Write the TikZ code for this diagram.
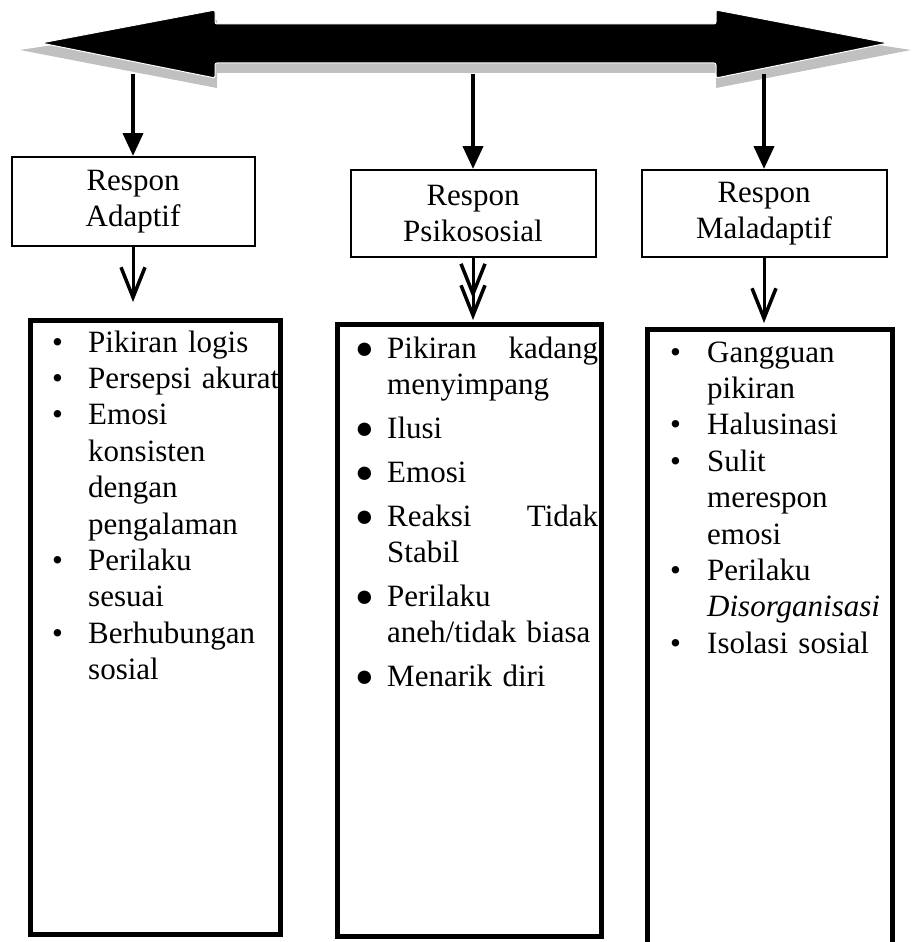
\documentclass[tikz,border=0pt]{standalone}
\usepackage{fontspec}
\setmainfont{Liberation Serif}
\usetikzlibrary{arrows.meta,positioning}
\definecolor{shadowgray}{RGB}{192,192,192}
\newcommand{\bul}[1][36pt]{\makebox[#1][l]{•}}
\newcommand{\bigbul}{\makebox[32pt][l]{●}}
\newcommand{\ind}[1][36pt]{\hspace*{#1}}

\begin{document}
\begin{tikzpicture}[x=1pt,y=-1pt,font=\fontsize{31}{36.4}\selectfont,
                    head node/.style={draw,line width=2pt,align=center,inner sep=0pt},
                    list box/.style={draw,line width=5pt,inner sep=0pt},
                    list text/.style={anchor=base west,align=left,inner sep=0pt,text width=250pt},
                    down arrow/.style={line width=4pt,-{Triangle[length=23pt,width=20pt]}},
                    open arrow/.style={line width=3pt,-{Straight Barb[length=30pt,width=24pt,line width=3.5pt]}}]

  \useasboundingbox (0,0) rectangle (913,942);

  % big double arrow with its shadow
  \fill[shadowgray] (20,50) -- (217,20) -- (217,34) -- (716,34) -- (716,20) -- (911,50)
    -- (716,88) -- (716,73) -- (217,73) -- (217,88) -- cycle;
  \filldraw[draw=white,line width=1pt,rounded corners=2pt] (41,43) -- (215,10) -- (215,24)
    -- (716,24) -- (716,10) -- (888,43) -- (716,78) -- (716,63) -- (215,63) -- (215,78) -- cycle;

  \coordinate (p1) at (133,74);
  \coordinate (p2) at (473,74);
  \coordinate (p3) at (764,74);

  \node[head node,minimum width=243pt,minimum height=89pt] (adaptif) at (133,201.5) {Respon\\Adaptif};
  \node[head node,minimum width=245pt,minimum height=87pt] (psiko) at (473,213.5) {Respon\\Psikososial};
  \node[head node,minimum width=245pt,minimum height=87pt] (mal) at (764,213.5) {Respon\\Maladaptif};

  \node[list box,minimum width=250pt,minimum height=614pt] (b1) at (155.5,627.5) {};
  \node[list box,minimum width=264pt,minimum height=612pt] (b2) at (469.5,630.5) {};
  \node[list box,minimum width=245pt,minimum height=640pt] (b3) at (769.5,649.5) {};

  \draw[down arrow] (p1) -- (p1 |- adaptif.north);
  \draw[down arrow] (p2) -- (p2 |- psiko.north);
  \draw[down arrow] (p3) -- (p3 |- mal.north);

  \draw[open arrow,shorten >=16pt] (adaptif.south) -- (adaptif.south |- b1.north);
  \draw[line width=3pt,shorten >=2pt,
        -{Straight Barb[length=30pt,width=24pt,line width=3.5pt,sep=-15pt]Straight Barb[length=30pt,width=24pt,line width=3.5pt]}]
    (psiko.south) -- (psiko.south |- b2.north);
  \draw[open arrow,shorten >=4pt] (mal.south) -- (mal.south |- b3.north);

  \node[list text] (t1) at (52,352) {\bul Pikiran logis\\
    \bul Persepsi akurat\\
    \bul Emosi\\
    \ind konsisten\\
    \ind dengan\\
    \ind pengalaman\\
    \bul Perilaku\\
    \ind sesuai\\
    \bul Berhubungan\\
    \ind sosial};

  \node[list text] (t2) at (355,358) {\bigbul\makebox[211pt][l]{Pikiran\hfill kadang}\\
    \ind[32pt]menyimpang\\[7.5pt]
    \bigbul Ilusi\\[7.5pt]
    \bigbul Emosi\\[7.5pt]
    \bigbul\makebox[211pt][l]{Reaksi\hfill Tidak}\\
    \ind[32pt]Stabil\\[7.5pt]
    \bigbul Perilaku\\
    \ind[32pt]aneh/tidak biasa\\[7.5pt]
    \bigbul Menarik diri};

  \node[list text] (t3) at (670,362) {\bul[37pt]Gangguan\\
    \ind[37pt]pikiran\\
    \bul[37pt]Halusinasi\\
    \bul[37pt]Sulit\\
    \ind[37pt]merespon\\
    \ind[37pt]emosi\\
    \bul[37pt]Perilaku\\
    \ind[37pt]\textit{Disorganisasi}\\
    \bul[37pt]Isolasi sosial};

\end{tikzpicture}
\end{document}
